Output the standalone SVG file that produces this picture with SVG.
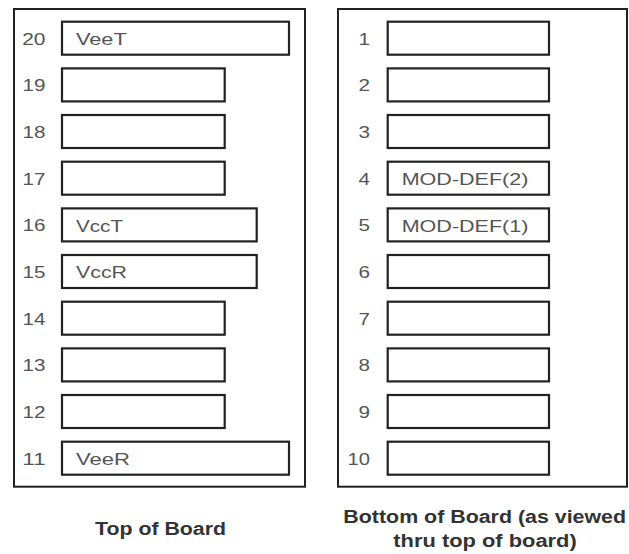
<svg xmlns="http://www.w3.org/2000/svg" width="629" height="554" viewBox="0 0 629 554">
<style>
.board{fill:#fff;stroke:#222;stroke-width:2}
.pin{fill:#fff;stroke:#222;stroke-width:2.2}
.num{font-family:"Liberation Sans",Arial,sans-serif;font-size:17px;fill:#555;text-anchor:end}
.lbl{font-family:"Liberation Sans",Arial,sans-serif;font-size:17px;fill:#555}
.cap{font-family:"Liberation Sans",Arial,sans-serif;font-size:18px;font-weight:bold;fill:#333;text-anchor:middle}
</style>
<rect width="629" height="554" fill="#fff"/>
<g id="top-board">
<rect class="board" x="14" y="9" width="291" height="477.7"/>
</g>
<g id="bottom-board">
<rect class="board" x="338" y="9" width="289" height="477.7"/>
</g>
<g id="pin20"><rect class="pin" x="62" y="21.7" width="227" height="33"/><text class="num" x="45.5" y="44.5" textLength="23.3" lengthAdjust="spacingAndGlyphs">20</text><text class="lbl" x="76" y="45" textLength="50.7" lengthAdjust="spacingAndGlyphs">VeeT</text></g>
<g id="pin19"><rect class="pin" x="62" y="68.4" width="162.7" height="33"/><text class="num" x="45.5" y="91.2" textLength="23" lengthAdjust="spacingAndGlyphs">19</text></g>
<g id="pin18"><rect class="pin" x="62" y="115" width="162.7" height="33"/><text class="num" x="45.5" y="137.8" textLength="23" lengthAdjust="spacingAndGlyphs">18</text></g>
<g id="pin17"><rect class="pin" x="62" y="161.7" width="162.7" height="33"/><text class="num" x="45.5" y="184.5" textLength="23" lengthAdjust="spacingAndGlyphs">17</text></g>
<g id="pin16"><rect class="pin" x="62" y="208.4" width="194.7" height="33"/><text class="num" x="45.5" y="231.2" textLength="23" lengthAdjust="spacingAndGlyphs">16</text><text class="lbl" x="76" y="231.7" textLength="47" lengthAdjust="spacingAndGlyphs">VccT</text></g>
<g id="pin15"><rect class="pin" x="62" y="255" width="194.7" height="33"/><text class="num" x="45.5" y="277.8" textLength="23" lengthAdjust="spacingAndGlyphs">15</text><text class="lbl" x="76" y="278.3" textLength="51" lengthAdjust="spacingAndGlyphs">VccR</text></g>
<g id="pin14"><rect class="pin" x="62" y="301.7" width="162.7" height="33"/><text class="num" x="45.5" y="324.5" textLength="23" lengthAdjust="spacingAndGlyphs">14</text></g>
<g id="pin13"><rect class="pin" x="62" y="348.4" width="162.7" height="33"/><text class="num" x="45.5" y="371.2" textLength="23" lengthAdjust="spacingAndGlyphs">13</text></g>
<g id="pin12"><rect class="pin" x="62" y="395" width="162.7" height="33"/><text class="num" x="45.5" y="417.8" textLength="23" lengthAdjust="spacingAndGlyphs">12</text></g>
<g id="pin11"><rect class="pin" x="62" y="441.7" width="227" height="33"/><text class="num" x="45.5" y="464.5" textLength="23" lengthAdjust="spacingAndGlyphs">11</text><text class="lbl" x="76" y="465" textLength="54" lengthAdjust="spacingAndGlyphs">VeeR</text></g>
<g id="pin1"><rect class="pin" x="387.7" y="21.7" width="161.3" height="33"/><text class="num" x="370" y="44.5" textLength="11.5" lengthAdjust="spacingAndGlyphs">1</text></g>
<g id="pin2"><rect class="pin" x="387.7" y="68.4" width="161.3" height="33"/><text class="num" x="370" y="91.2" textLength="11.5" lengthAdjust="spacingAndGlyphs">2</text></g>
<g id="pin3"><rect class="pin" x="387.7" y="115" width="161.3" height="33"/><text class="num" x="370" y="137.8" textLength="11.5" lengthAdjust="spacingAndGlyphs">3</text></g>
<g id="pin4"><rect class="pin" x="387.7" y="161.7" width="161.3" height="33"/><text class="num" x="370" y="184.5" textLength="11.5" lengthAdjust="spacingAndGlyphs">4</text><text class="lbl" x="401.7" y="185" textLength="126.7" lengthAdjust="spacingAndGlyphs">MOD-DEF(2)</text></g>
<g id="pin5"><rect class="pin" x="387.7" y="208.4" width="161.3" height="33"/><text class="num" x="370" y="231.2" textLength="11.5" lengthAdjust="spacingAndGlyphs">5</text><text class="lbl" x="401.7" y="231.7" textLength="126.7" lengthAdjust="spacingAndGlyphs">MOD-DEF(1)</text></g>
<g id="pin6"><rect class="pin" x="387.7" y="255" width="161.3" height="33"/><text class="num" x="370" y="277.8" textLength="11.5" lengthAdjust="spacingAndGlyphs">6</text></g>
<g id="pin7"><rect class="pin" x="387.7" y="301.7" width="161.3" height="33"/><text class="num" x="370" y="324.5" textLength="11.5" lengthAdjust="spacingAndGlyphs">7</text></g>
<g id="pin8"><rect class="pin" x="387.7" y="348.4" width="161.3" height="33"/><text class="num" x="370" y="371.2" textLength="11.5" lengthAdjust="spacingAndGlyphs">8</text></g>
<g id="pin9"><rect class="pin" x="387.7" y="395" width="161.3" height="33"/><text class="num" x="370" y="417.8" textLength="11.5" lengthAdjust="spacingAndGlyphs">9</text></g>
<g id="pin10"><rect class="pin" x="387.7" y="441.7" width="161.3" height="33"/><text class="num" x="370" y="464.5" textLength="22.5" lengthAdjust="spacingAndGlyphs">10</text></g>
<g id="captions">
<text class="cap" x="160.5" y="535" textLength="131" lengthAdjust="spacingAndGlyphs">Top of Board</text>
<text class="cap" x="484.7" y="523.3" textLength="282.7" lengthAdjust="spacingAndGlyphs">Bottom of Board (as viewed</text>
<text class="cap" x="485" y="546.7" textLength="183.4" lengthAdjust="spacingAndGlyphs">thru top of board)</text>
</g>
<g id="connectors"/>
</svg>
